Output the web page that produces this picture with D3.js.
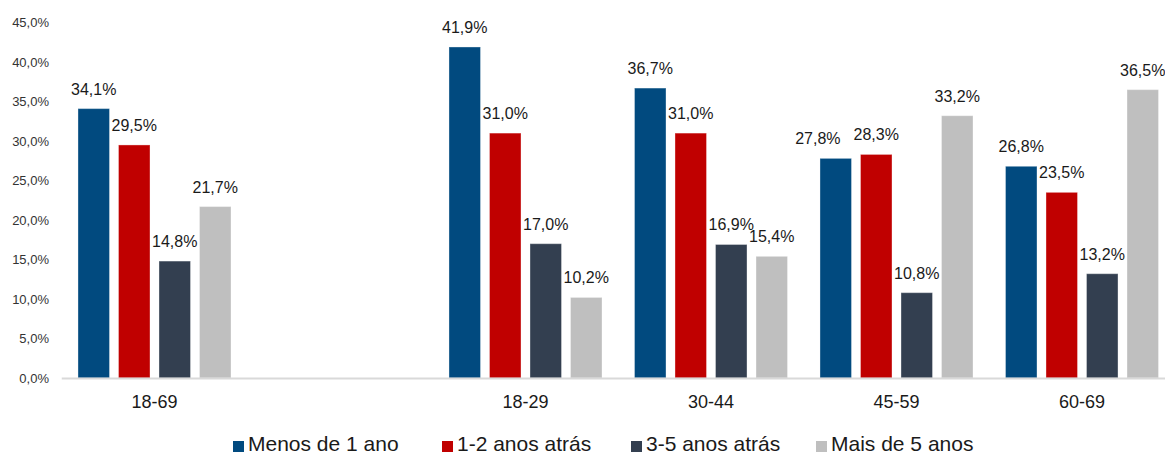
<!DOCTYPE html>
<html>
<head>
<meta charset="utf-8">
<script src="https://cdn.jsdelivr.net/npm/d3@7"></script>
<style>
  body { margin: 0; background: #fff; }
  svg { display: block; font-family: "Liberation Sans", Arial, sans-serif; }
</style>
</head>
<body>
<div id="chart"></div>
<script>
// Age groups (the blank slot is the gap between total and breakdown)
const categories = ["18-69", " ", "18-29", "30-44", "45-59", "60-69"];
const series = ["Menos de 1 ano", "1-2 anos atrás", "3-5 anos atrás", "Mais de 5 anos"];
const colors = ["#014a7f", "#c00000", "#333f50", "#bfbfbf"];

// Values per series, in category order (null for the blank slot)
const menos1 = [34.1, null, 41.9, 36.7, 27.8, 26.8];
const anos12 = [29.5, null, 31.0, 31.0, 28.3, 23.5];
const anos35 = [14.8, null, 17.0, 16.9, 10.8, 13.2];
const mais5  = [21.7, null, 10.2, 15.4, 33.2, 36.5];
const values = [menos1, anos12, anos35, mais5];

const yTicks = [0, 5, 10, 15, 20, 25, 30, 35, 40, 45];

const width = 1165, height = 456;
const fmt = v => v.toFixed(1).replace(".", ",") + "%";

const svg = d3.select("#chart").append("svg")
  .attr("width", width)
  .attr("height", height);

// Scales
const x0 = d3.scaleBand()
  .domain(categories)
  .range([61.75, 1174.75])
  .paddingInner(0)
  .paddingOuter(0);

const x1 = d3.scaleBand()
  .domain(series)
  .range([0, x0.bandwidth()])
  .paddingInner(0.222)
  .paddingOuter(0.401);

const y = d3.scaleLinear()
  .domain([0, 45])
  .range([378, 22.5]);

// Y axis labels (no line, no ticks)
const yAxis = svg.append("g")
  .attr("transform", "translate(49,0)")
  .call(d3.axisLeft(y).tickValues(yTicks).tickSize(0).tickPadding(0).tickFormat(fmt));
yAxis.select(".domain").remove();
yAxis.selectAll("text")
  .attr("font-size", 13)
  .attr("fill", "#333333")
  .attr("font-family", "Liberation Sans, Arial, sans-serif");

// Bars, one group per series
const labels = [];
series.forEach((s, i) => {
  const data = categories.map((c, j) => ({ cat: c, j: j, v: values[i][j] })).filter(d => d.v != null);
  const g = svg.append("g");

  g.selectAll("rect")
    .data(data)
    .enter().append("rect")
    .attr("x", d => x0(d.cat) + x1(s))
    .attr("y", d => y(d.v))
    .attr("width", x1.bandwidth())
    .attr("height", d => y(0) - y(d.v))
    .attr("fill", colors[i])
    .attr("stroke", "#ffffff")
    .attr("stroke-opacity", 0.35)
    .attr("stroke-width", 1);

  g.selectAll("text")
    .data(data)
    .enter().append("text")
    .attr("x", d => x0(d.cat) + x1(s) + x1.bandwidth() / 2)
    .attr("y", d => y(d.v) - 14)
    .attr("text-anchor", "middle")
    .attr("font-size", 16)
    .attr("fill", "#1a1a1a")
    .text(d => fmt(d.v))
    .each(function (d) { labels.push({ node: this, j: d.j, i: i }); });
});

// Nudge a label left when it sits on the same line as the next one in its group
categories.forEach((c, j) => {
  const group = labels.filter(l => l.j === j).sort((a, b) => a.i - b.i);
  for (let k = group.length - 2; k >= 0; k--) {
    const a = group[k].node.getBBox(), b = group[k + 1].node.getBBox();
    const overlapX = a.x + a.width > b.x && b.x + b.width > a.x;
    const sameLine = Math.abs(a.y - b.y) < 8;
    if (overlapX && sameLine) {
      const shift = a.x + a.width - b.x + 13;
      const sel = d3.select(group[k].node);
      sel.attr("x", +sel.attr("x") - shift);
    }
  }
});

// X axis line and category labels
const xAxis = svg.append("g")
  .attr("transform", "translate(0,378)")
  .call(d3.axisBottom(x0).tickSize(0).tickPadding(0));
xAxis.select(".domain")
  .attr("d", "M61.75,0.5H1165")
  .attr("stroke", "#d9d9d9")
  .attr("stroke-width", 2);
xAxis.selectAll("text")
  .attr("y", 30)
  .attr("dy", 0)
  .attr("font-size", 18)
  .attr("fill", "#1a1a1a")
  .attr("font-family", "Liberation Sans, Arial, sans-serif");

// Legend
const legendX = [233, 442, 631, 816];
const legend = svg.append("g");
series.forEach((s, i) => {
  legend.append("rect")
    .attr("x", legendX[i])
    .attr("y", 441)
    .attr("width", 11)
    .attr("height", 11)
    .attr("fill", colors[i]);
  legend.append("text")
    .attr("x", legendX[i] + 15)
    .attr("y", 451)
    .attr("font-size", 21)
    .attr("fill", "#1a1a1a")
    .text(s);
});
</script>
</body>
</html>
